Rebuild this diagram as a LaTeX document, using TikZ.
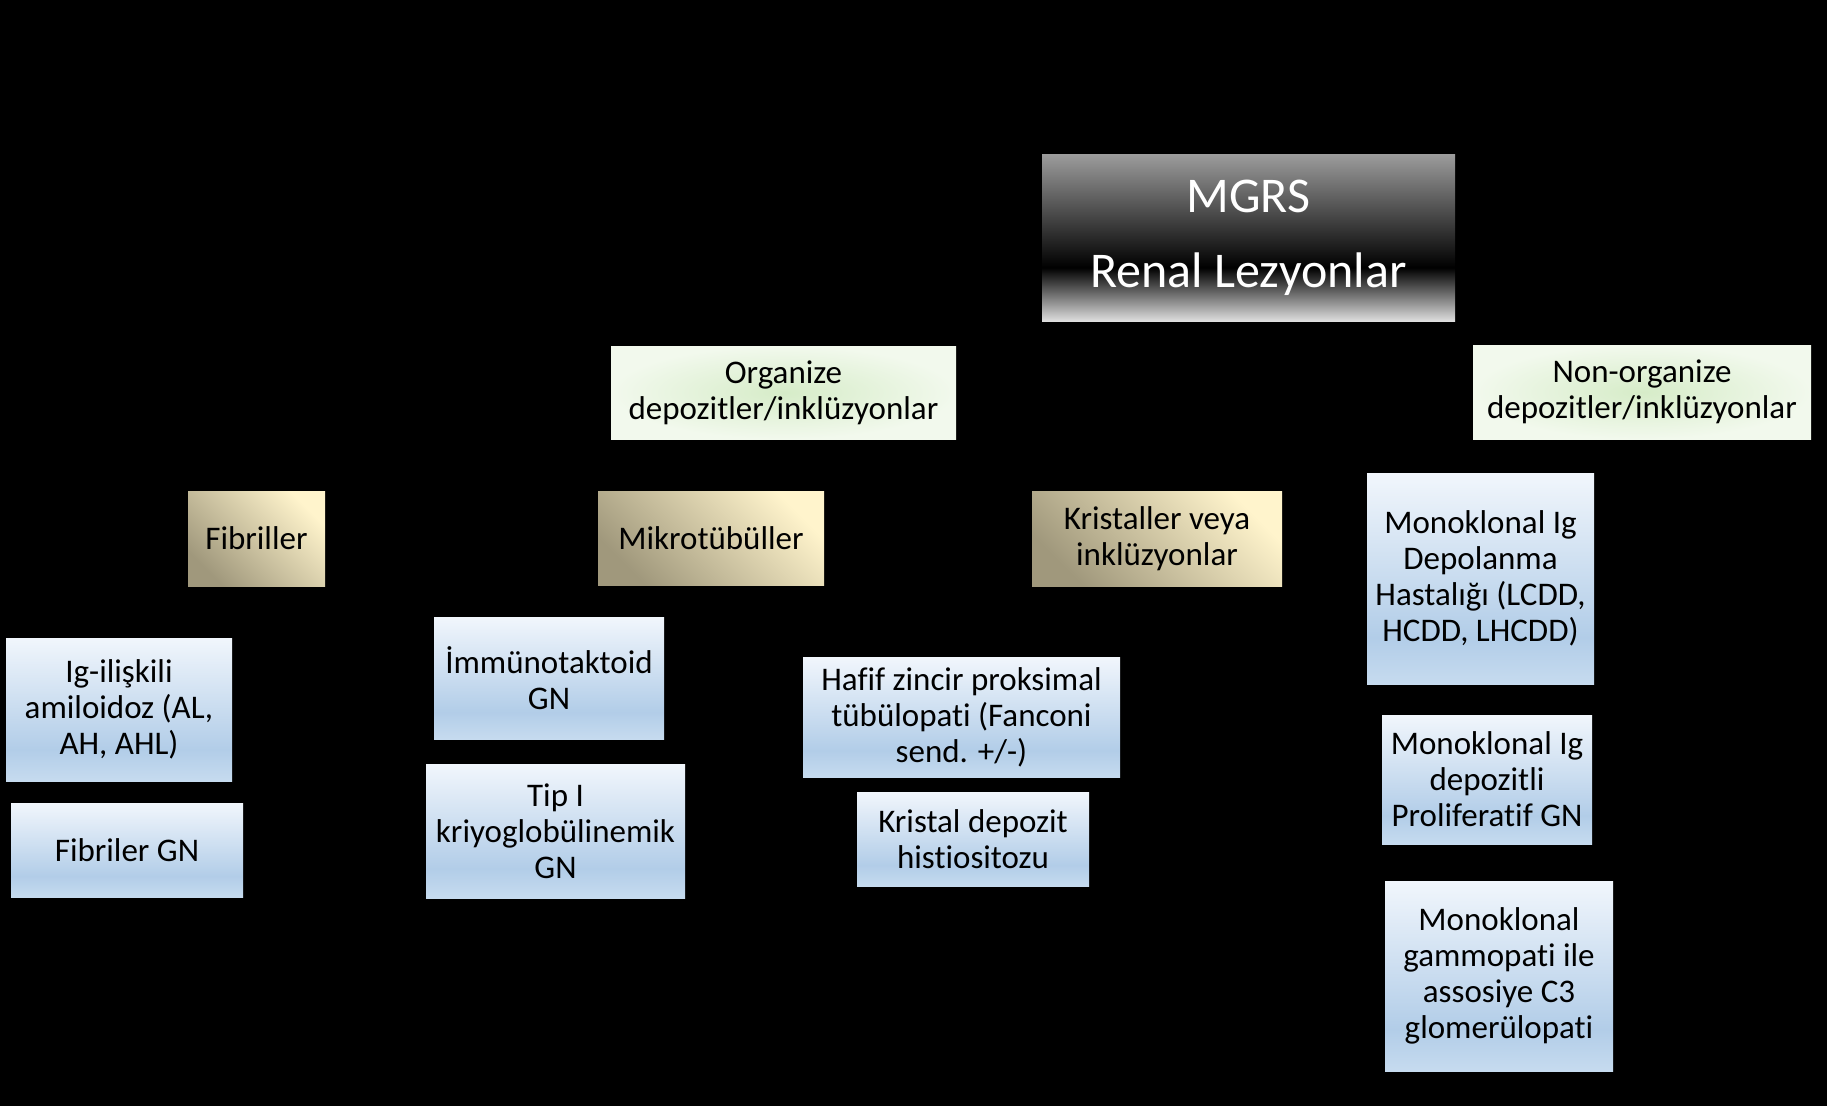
\documentclass[tikz,border=0pt]{standalone}
\usepackage{fontspec}
\setmainfont{Carlito}[Ligatures=CommonOff]
\usepackage{tikz}
\definecolor{bluetop}{RGB}{241,246,252}
\definecolor{bluemid}{RGB}{178,205,232}
\definecolor{bluebot}{RGB}{198,219,239}
\definecolor{greenin}{RGB}{214,236,200}
\definecolor{greenout}{RGB}{242,249,237}
\definecolor{tanlight}{RGB}{255,244,204}
\definecolor{tandark}{RGB}{160,152,124}
\definecolor{mgrstop}{RGB}{156,156,156}
\definecolor{mgrsbot}{RGB}{222,222,222}
\pgfdeclareverticalshading{mgrsshade}{100bp}{color(0bp)=(mgrsbot); color(25bp)=(mgrsbot); color(41bp)=(black); color(75bp)=(mgrstop); color(100bp)=(mgrstop)}
\pgfdeclareverticalshading{blueshade}{100bp}{color(0bp)=(bluebot); color(25bp)=(bluebot); color(36bp)=(bluemid); color(75bp)=(bluetop); color(100bp)=(bluetop)}

\begin{document}
\begin{tikzpicture}[x=1pt, y=-1pt,
    every node/.style={inner sep=0pt, align=center, font=\fontsize{33}{36}\selectfont},
    topbox/.style={shading=mgrsshade, text=white, font=\fontsize{50}{75}\selectfont},
    groupbox/.style={shading=radial, inner color=greenin, outer color=greenout},
    typebox/.style={top color=tanlight, bottom color=tandark, shading angle=-45},
    lesionbox/.style={shading=blueshade}]
    % Background
    \fill[black] (0,0) rectangle (1827,1106);
    \useasboundingbox (0,0) rectangle (1827,1106);

    % Top
    \node[topbox, minimum width=413pt, minimum height=167pt] (mgrs) at (1248.5,237.5) {MGRS\\Renal Lezyonlar};

    % Deposit groups
    \node[groupbox, minimum width=345pt, minimum height=93pt] (org) at (783.5,392.5) {Organize\\depozitler/inklüzyonlar};
    \node[groupbox, minimum width=338pt, minimum height=94pt] (nonorg) at (1642,392) {Non-organize\\depozitler/inklüzyonlar};

    % Deposit types
    \node[typebox, minimum width=137pt, minimum height=95pt] (fib) at (256.5,538.5) {Fibriller};
    \node[typebox, minimum width=226pt, minimum height=94pt] (mikro) at (711,538) {Mikrotübüller};
    \node[typebox, minimum width=250pt, minimum height=95pt] (krist) at (1157,538.5) {Kristaller veya\\inklüzyonlar};

    % Lesions
    \node[lesionbox, minimum width=226pt, minimum height=143pt] (amilo) at (119,709.5) {Ig-ilişkili\\amiloidoz (AL,\\AH, AHL)};
    \node[lesionbox, minimum width=232pt, minimum height=94pt] (fibgn) at (127,850) {Fibriler GN};
    \node[lesionbox, minimum width=230pt, minimum height=122pt] (immuno) at (549,678) {İmmünotaktoid\\GN};
    \node[lesionbox, minimum width=259pt, minimum height=134pt] (kriyo) at (555.5,831) {Tip I\\kriyoglobülinemik\\GN};
    \node[lesionbox, minimum width=317pt, minimum height=120pt] (tubul) at (961.5,717) {Hafif zincir proksimal\\tübülopati (Fanconi\\send. +/-)};
    \node[lesionbox, minimum width=232pt, minimum height=94pt] (histio) at (973,839) {Kristal depozit\\histiositozu};
    \node[lesionbox, minimum width=227pt, minimum height=211pt] (midd) at (1480.5,578.5) {Monoklonal Ig\\Depolanma\\Hastalığı (LCDD,\\HCDD, LHCDD)};
    \node[lesionbox, minimum width=210pt, minimum height=129pt] (pgnmid) at (1487,779.5) {Monoklonal Ig\\depozitli\\Proliferatif GN};
    \node[lesionbox, minimum width=228pt, minimum height=190pt] (cthree) at (1499,976) {Monoklonal\\gammopati ile\\assosiye C3\\glomerülopati};
\end{tikzpicture}
\end{document}
